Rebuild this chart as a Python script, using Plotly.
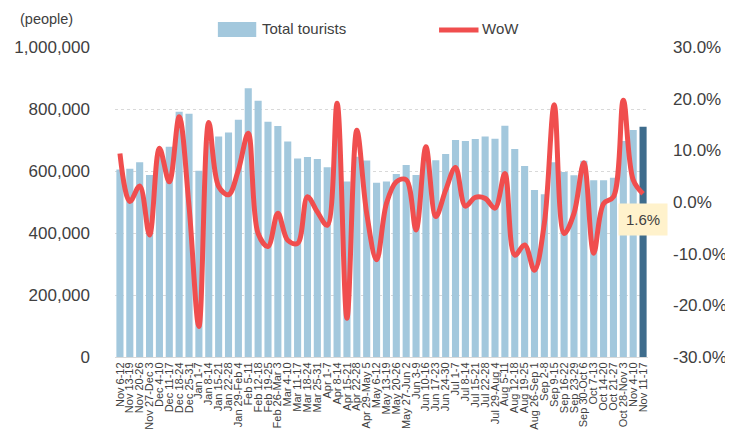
import plotly.graph_objects as go

weeks = ["Nov 6-12", "Nov 13-19", "Nov 20-26", "Nov 27-Dec 3", "Dec 4-10", "Dec 11-17",
         "Dec 18-24", "Dec 25-31", "Jan 1-7", "Jan 8-14", "Jan 15-21", "Jan 22-28",
         "Jan 29-Feb 4", "Feb 5-11", "Feb 12-18", "Feb 19-25", "Feb 26-Mar 3", "Mar 4-10",
         "Mar 11-17", "Mar 18-24", "Mar 25-31", "Apr 1-7", "Apr 8-14", "Apr 15-21",
         "Apr 22-28", "Apr 29-May 5", "May 6-12", "May 13-19", "May 20-26", "May 27-Jun 2",
         "Jun 3-9", "Jun 10-16", "Jun 17-23", "Jun 24-30", "Jul 1-7", "Jul 8-14",
         "Jul 15-21", "Jul 22-28", "Jul 29-Aug 4", "Aug 5-11", "Aug 12-18", "Aug 19-25",
         "Aug 26-Sep 1", "Sep 2-8", "Sep 9-15", "Sep 16-22", "Sep 23-29", "Sep 30-Oct 6",
         "Oct 7-13", "Oct 14-20", "Oct 21-27", "Oct 28-Nov 3", "Nov 4-10", "Nov 11-17"]

total_tourists = [605000, 607000, 628000, 587000, 648000, 678000,
                  791000, 785000, 601000, 694000, 711000, 724000,
                  765000, 867000, 827000, 759000, 745000, 695000,
                  640000, 645000, 639000, 612000, 729000, 566000,
                  646000, 634000, 562000, 566000, 590000, 619000,
                  587000, 650000, 635000, 655000, 700000, 697000,
                  703000, 711000, 704000, 746000, 671000, 616000,
                  539000, 525000, 628000, 597000, 586000, 633000,
                  570000, 570000, 578000, 697000, 732000, 743000]

wow_pct = [9.4, 0.1, 3.1, -6.4, 10.4, 3.9,
           16.5, -0.8, -24.1, 15.4, 3.0, 1.4,
           6.2, 13.3, -6.1, -8.6, -2.2, -7.4,
           -8.0, 1.0, -1.9, -4.5, 19.1, -22.5,
           13.9, -2.2, -11.2, -0.3, 3.9, 4.3,
           -5.4, 10.7, -2.8, 2.3, 6.7, -0.8,
           0.9, 0.7, -1.2, 5.5, -10.3, -8.3,
           -13.2, -4.1, 18.8, -6.1, -2.2, 7.6,
           -9.9, -0.3, 1.0, 19.7, 4.3, 1.6]

left_ticks = [0, 200000, 400000, 600000, 800000, 1000000]
left_tick_text = ["0", "200,000", "400,000", "600,000", "800,000", "1,000,000"]
right_ticks = [-30, -20, -10, 0, 10, 20, 30]
right_tick_text = ["-30.0%", "-20.0%", "-10.0%", "0.0%", "10.0%", "20.0%", "30.0%"]

light_blue = "#A3C8DD"
dark_blue = "#3E6C8C"
red = "#F04E4E"
text_col = "#404040"

bar_colors = [light_blue] * (len(weeks) - 1) + [dark_blue]

fig = go.Figure()
fig.add_trace(go.Bar(x=weeks, y=total_tourists, marker=dict(color=bar_colors, line=dict(width=0)),
                     name="Total tourists", showlegend=False))
fig.add_trace(go.Scatter(x=weeks, y=wow_pct, yaxis="y2", mode="lines",
                         line=dict(color=red, width=5, shape="spline", smoothing=1.0),
                         name="WoW", showlegend=False))

fig.update_layout(
    width=725, height=427,
    margin=dict(l=107, r=85, t=39, b=78, autoexpand=False),
    plot_bgcolor="white", paper_bgcolor="white",
    font=dict(family="Liberation Sans, Arial, sans-serif", color=text_col),
    bargap=0.28,
    xaxis=dict(type="category", tickangle=-90, tickfont=dict(size=11, color=text_col),
               tickmode="linear", tick0=0, dtick=1,
               showgrid=False, showline=True, linecolor="#D9D9D9", linewidth=1,
               ticks="", range=[-0.5, len(weeks) - 0.5], automargin=False),
    yaxis=dict(range=[0, 1000000], tickvals=left_ticks, ticktext=left_tick_text,
               tickfont=dict(size=17, color=text_col), showgrid=True,
               gridcolor="#D9D9D9", griddash="dot", gridwidth=1, zeroline=False,
               ticks="", ticklabelstandoff=24, automargin=False),
    yaxis2=dict(range=[-30, 30], overlaying="y", side="right", tickvals=right_ticks,
                ticktext=right_tick_text, tickfont=dict(size=17, color=text_col),
                showgrid=False, zeroline=False, ticks="", ticklabelstandoff=24,
                automargin=False),
)

# custom legend
fig.add_shape(type="rect", xref="paper", yref="paper", x0=0.193, x1=0.265, y0=1.032, y1=1.081,
              fillcolor=light_blue, line=dict(width=0))
fig.add_annotation(xref="paper", yref="paper", x=0.272, y=1.060, text="Total tourists",
                   showarrow=False, xanchor="left", yanchor="middle",
                   font=dict(size=15, color=text_col))
fig.add_shape(type="line", xref="paper", yref="paper", x0=0.608, x1=0.682, y0=1.055, y1=1.055,
              line=dict(color=red, width=5))
fig.add_annotation(xref="paper", yref="paper", x=0.684, y=1.060, text="WoW",
                   showarrow=False, xanchor="left", yanchor="middle",
                   font=dict(size=15, color=text_col))

# axis unit label
fig.add_annotation(xref="paper", yref="paper", x=-0.129, y=1.090, text="(people)",
                   showarrow=False, xanchor="center", yanchor="middle",
                   font=dict(size=14.5, color=text_col))

# value callout
fig.add_annotation(x=weeks[-1], y=wow_pct[-1] - 5.0, xref="x", yref="y2",
                   text=f"{wow_pct[-1]:.1f}%", showarrow=False, bgcolor="#FFF2CC",
                   borderpad=7, font=dict(size=15, color=text_col))

fig.write_html("out.html")
